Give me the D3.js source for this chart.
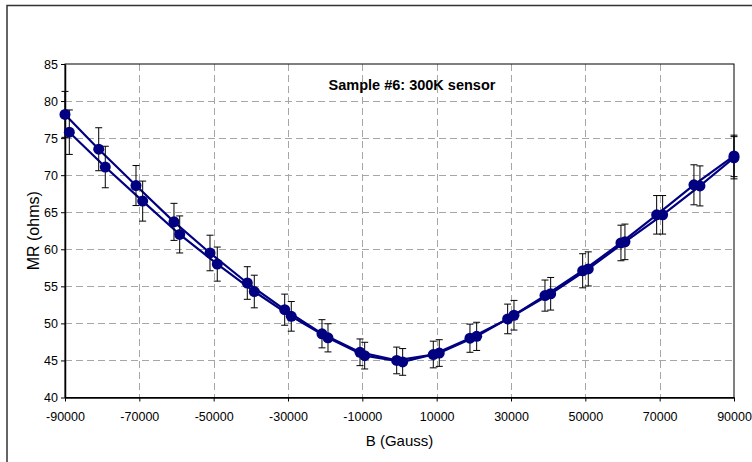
<!DOCTYPE html>
<html>
<head>
<meta charset="utf-8">
<script src="https://cdn.jsdelivr.net/npm/d3@7"></script>
<style>
  body { margin: 0; background: #fff; }
  svg { display: block; font-family: "Liberation Sans", Arial, sans-serif; }
</style>
</head>
<body>
<div id="chart"></div>
<script>
// series 1 (upper on the left side)
const fieldA = [-90000, -80930, -70900, -60680, -50990, -40950, -30890, -20860, -10630, -760,
    9090, 18960, 29100, 39140, 49280, 59580, 69190, 79220, 90000];
const mrA = [78.2, 73.5, 68.6, 63.7, 59.5, 55.45, 51.85, 48.6, 46.1, 45.0,
    45.8, 48.0, 50.6, 53.75, 57.1, 60.85, 64.65, 68.7, 72.6];
const errA = [3.1, 2.9, 2.7, 2.5, 2.4, 2.2, 2.1, 1.9, 1.8, 1.8,
    1.8, 1.9, 2.0, 2.1, 2.3, 2.4, 2.6, 2.7, 2.8];

// series 2
const fieldB = [-88840, -79160, -69100, -59140, -49030, -39070, -29120, -19240, -9370, 850,
    10700, 20760, 30800, 40670, 50790, 60660, 70800, 80840, 90000];
const mrB = [75.8, 71.1, 66.5, 62.0, 58.0, 54.3, 50.95, 48.05, 45.65, 44.8,
    46.0, 48.25, 51.1, 54.0, 57.35, 61.0, 64.65, 68.55, 72.35];
const errB = [3.0, 2.8, 2.7, 2.5, 2.3, 2.2, 2.0, 1.9, 1.8, 1.8,
    1.8, 1.9, 2.0, 2.2, 2.3, 2.4, 2.6, 2.7, 2.85];

const xTickValues = [-90000, -70000, -50000, -30000, -10000, 10000, 30000, 50000, 70000, 90000];
const yTickValues = [40, 45, 50, 55, 60, 65, 70, 75, 80, 85];

const chartTitle = 'Sample #6: 300K sensor';
const xTitle = 'B (Gauss)';
const yTitle = 'MR (ohms)';

const width = 752, height = 462;
const margin = { top: 64, right: 18, bottom: 64.5, left: 65 };
const navy = '#000080';

const svg = d3.select('#chart').append('svg')
    .attr('width', width)
    .attr('height', height);

// outer chart frame (runs off the right/bottom edge)
svg.append('rect')
    .attr('x', 7).attr('y', 5.5)
    .attr('width', 800).attr('height', 500)
    .attr('fill', 'none')
    .attr('stroke', '#333')
    .attr('stroke-width', 1.5);

const x = d3.scaleLinear()
    .domain([-90000, 90000])
    .range([margin.left, width - margin.right]);
const y = d3.scaleLinear()
    .domain([40, 85])
    .range([height - margin.bottom, margin.top]);

// gridlines
const grid = svg.append('g')
    .attr('stroke', '#a6a6a6')
    .attr('stroke-width', 1)
    .attr('stroke-dasharray', '7,4');
grid.selectAll('.gx')
    .data(xTickValues.slice(1, -1))
    .join('line')
    .attr('x1', d => Math.round(x(d)) + 0.5).attr('x2', d => Math.round(x(d)) + 0.5)
    .attr('y1', y(85)).attr('y2', y(40));
grid.selectAll('.gy')
    .data(yTickValues.slice(1, -1))
    .join('line')
    .attr('y1', d => Math.round(y(d)) + 0.5).attr('y2', d => Math.round(y(d)) + 0.5)
    .attr('x1', x(-90000)).attr('x2', x(90000));

// plot frame
svg.append('rect')
    .attr('x', x(-90000)).attr('y', y(85))
    .attr('width', x(90000) - x(-90000))
    .attr('height', y(40) - y(85))
    .attr('fill', 'none')
    .attr('stroke', '#000')
    .attr('stroke-width', 1);

// axes (plain integer labels, hyphen minus like the original)
const plain = d => String(d);
const xAxis = svg.append('g')
    .attr('transform', 'translate(0,' + y(40) + ')')
    .call(d3.axisBottom(x).tickValues(xTickValues).tickFormat(plain)
        .tickSize(4).tickSizeOuter(0).tickPadding(11));
const yAxis = svg.append('g')
    .attr('transform', 'translate(' + x(-90000) + ',0)')
    .call(d3.axisLeft(y).tickValues(yTickValues).tickFormat(plain)
        .tickSize(4).tickSizeOuter(0).tickPadding(3));
[xAxis, yAxis].forEach(a => {
    a.select('.domain').attr('stroke', '#000').attr('stroke-width', 1.5);
    a.selectAll('text')
        .attr('font-size', 12.5)
        .attr('font-family', '"Liberation Sans", Arial, sans-serif')
        .attr('fill', '#000');
});

function seriesData(field, mr, err) {
    return field.map((b, i) => ({ b: b, v: mr[i], e: err[i] }));
}
const series = [seriesData(fieldA, mrA, errA), seriesData(fieldB, mrB, errB)];

const line = d3.line()
    .x(d => x(d.b))
    .y(d => y(d.v));

series.forEach(s => {
    svg.append('path')
        .datum(s)
        .attr('d', line)
        .attr('fill', 'none')
        .attr('stroke', navy)
        .attr('stroke-width', 2.2);
});

// error bars
series.forEach(s => {
    const g = svg.append('g')
        .attr('stroke', '#000')
        .attr('stroke-width', 1);
    const bars = g.selectAll('g')
        .data(s)
        .join('g');
    bars.append('line')
        .attr('x1', d => x(d.b)).attr('x2', d => x(d.b))
        .attr('y1', d => y(d.v + d.e)).attr('y2', d => y(d.v - d.e));
    bars.append('line')
        .attr('x1', d => x(d.b) - 3.5).attr('x2', d => x(d.b) + 3.5)
        .attr('y1', d => y(d.v + d.e)).attr('y2', d => y(d.v + d.e));
    bars.append('line')
        .attr('x1', d => x(d.b) - 3.5).attr('x2', d => x(d.b) + 3.5)
        .attr('y1', d => y(d.v - d.e)).attr('y2', d => y(d.v - d.e));
});

// markers
series.forEach(s => {
    svg.append('g')
        .selectAll('circle')
        .data(s)
        .join('circle')
        .attr('cx', d => x(d.b))
        .attr('cy', d => y(d.v))
        .attr('r', 5.5)
        .attr('fill', navy);
});

// titles
svg.append('text')
    .attr('x', 412).attr('y', 90)
    .attr('text-anchor', 'middle')
    .attr('font-size', 14.5)
    .attr('font-weight', 'bold')
    .text(chartTitle);

svg.append('text')
    .attr('x', (x(-90000) + x(90000)) / 2).attr('y', 446)
    .attr('text-anchor', 'middle')
    .attr('font-size', 15)
    .text(xTitle);

svg.append('text')
    .attr('transform', 'translate(39,' + (y(62.5)) + ') rotate(-90)')
    .attr('text-anchor', 'middle')
    .attr('font-size', 16)
    .text(yTitle);
</script>
</body>
</html>
